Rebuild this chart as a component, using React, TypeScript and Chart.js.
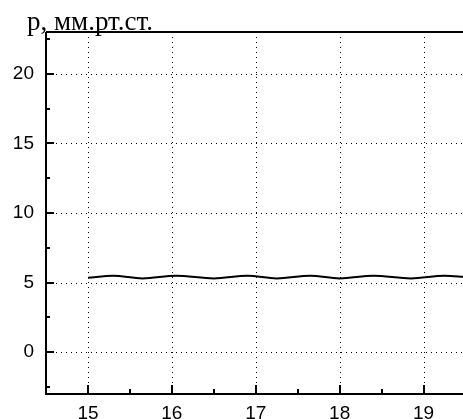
import React, { useEffect, useRef } from "react";
import { Chart, registerables } from "chart.js";

Chart.register(...registerables);

// time axis positions of the pressure trace and its values
const timeValues = [15.0, 15.3, 15.65, 16.05, 16.5, 16.9, 17.25, 17.65, 18.0, 18.4, 18.85, 19.25, 19.5];
const pressureValues = [5.35, 5.5, 5.3, 5.5, 5.3, 5.5, 5.3, 5.5, 5.3, 5.5, 5.3, 5.5, 5.4];

const xMajorTicks = [15, 16, 17, 18, 19];
const xMinorTicks = [15.5, 16.5, 17.5, 18.5, 19.5];
const yMajorTicks = [0, 5, 10, 15, 20];
const yMinorTicks = [-2.5, 2.5, 7.5, 12.5, 17.5, 22.5];

const axisTitle = "p, мм.рт.ст.";

const framePlugin = {
  id: "frame",
  afterDatasetsDraw(chart: any) {
    const { ctx, chartArea, scales } = chart;
    const { left, right, top, bottom } = chartArea;
    const xs = scales.x;
    const ys = scales.y;
    ctx.save();

    // dotted grid at major ticks
    ctx.strokeStyle = "#000";
    ctx.lineWidth = 1;
    ctx.setLineDash([1, 4]);
    xMajorTicks.forEach((v) => {
      const px = Math.round(xs.getPixelForValue(v)) + 0.5;
      ctx.beginPath();
      ctx.moveTo(px, top);
      ctx.lineTo(px, bottom);
      ctx.stroke();
    });
    yMajorTicks.forEach((v) => {
      const py = Math.round(ys.getPixelForValue(v)) + 0.5;
      ctx.beginPath();
      ctx.moveTo(left, py);
      ctx.lineTo(right, py);
      ctx.stroke();
    });
    ctx.setLineDash([]);

    // frame lines
    ctx.lineWidth = 2;
    ctx.beginPath();
    ctx.moveTo(left, top);
    ctx.lineTo(left, bottom);
    ctx.lineTo(right, bottom);
    ctx.moveTo(left, top);
    ctx.lineTo(right, top);
    ctx.stroke();

    // inward tick marks
    ctx.lineWidth = 2;
    ctx.beginPath();
    xMajorTicks.forEach((v) => {
      const px = Math.round(xs.getPixelForValue(v));
      ctx.moveTo(px, bottom);
      ctx.lineTo(px, bottom - 9);
    });
    xMinorTicks.forEach((v) => {
      const px = Math.round(xs.getPixelForValue(v));
      if (px < right) {
        ctx.moveTo(px, bottom);
        ctx.lineTo(px, bottom - 5);
      }
    });
    yMajorTicks.forEach((v) => {
      const py = Math.round(ys.getPixelForValue(v));
      ctx.moveTo(left, py);
      ctx.lineTo(left + 8, py);
    });
    yMinorTicks.forEach((v) => {
      const py = Math.round(ys.getPixelForValue(v));
      if (py > top) {
        ctx.moveTo(left, py);
        ctx.lineTo(left + 4, py);
      }
    });
    ctx.stroke();

    // axis title
    ctx.fillStyle = "#000";
    ctx.font = "27px 'Liberation Serif', 'Times New Roman', serif";
    ctx.textAlign = "left";
    ctx.textBaseline = "alphabetic";
    ctx.fillText(axisTitle, 27, 30);
    ctx.restore();
  },
};

export default function App() {
  const canvasRef = useRef<HTMLCanvasElement | null>(null);

  useEffect(() => {
    const canvas = canvasRef.current;
    if (!canvas) return;
    const chart = new Chart(canvas, {
      type: "line",
      data: {
        datasets: [
          {
            data: timeValues.map((t, i) => ({ x: t, y: pressureValues[i] })),
            borderColor: "#000",
            borderWidth: 2,
            pointRadius: 0,
            cubicInterpolationMode: "monotone",
            fill: false,
          },
        ],
      },
      options: {
        animation: false,
        responsive: false,
        maintainAspectRatio: false,
        layout: { padding: { left: 0, top: 32, right: 0, bottom: 0 } },
        plugins: { legend: { display: false }, tooltip: { enabled: false } },
        scales: {
          x: {
            type: "linear",
            min: 14.5,
            max: 19.47,
            border: { display: false },
            grid: { display: false, drawTicks: false },
            afterBuildTicks: (scale: any) => {
              scale.ticks = xMajorTicks.map((v) => ({ value: v }));
            },
            afterFit: (scale: any) => {
              scale.height = 25;
            },
            ticks: {
              color: "#000",
              padding: 8,
              maxRotation: 0,
              autoSkip: false,
              font: { family: "'Liberation Sans', Arial, sans-serif", size: 19 },
              callback: (v: any) => String(v),
            },
          },
          y: {
            type: "linear",
            min: -3,
            max: 23,
            border: { display: false },
            grid: { display: false, drawTicks: false },
            afterBuildTicks: (scale: any) => {
              scale.ticks = yMajorTicks.map((v) => ({ value: v }));
            },
            afterFit: (scale: any) => {
              scale.width = 46;
            },
            ticks: {
              color: "#000",
              padding: 12,
              autoSkip: false,
              font: { family: "'Liberation Sans', Arial, sans-serif", size: 19 },
              callback: (v: any) => String(v),
            },
          },
        },
      },
      plugins: [framePlugin],
    });
    return () => chart.destroy();
  }, []);

  return (
    <div style={{ position: "fixed", left: 0, top: 0, width: 463, height: 419, background: "#fff" }}>
      <canvas ref={canvasRef} width={463} height={419} style={{ display: "block" }} />
    </div>
  );
}
